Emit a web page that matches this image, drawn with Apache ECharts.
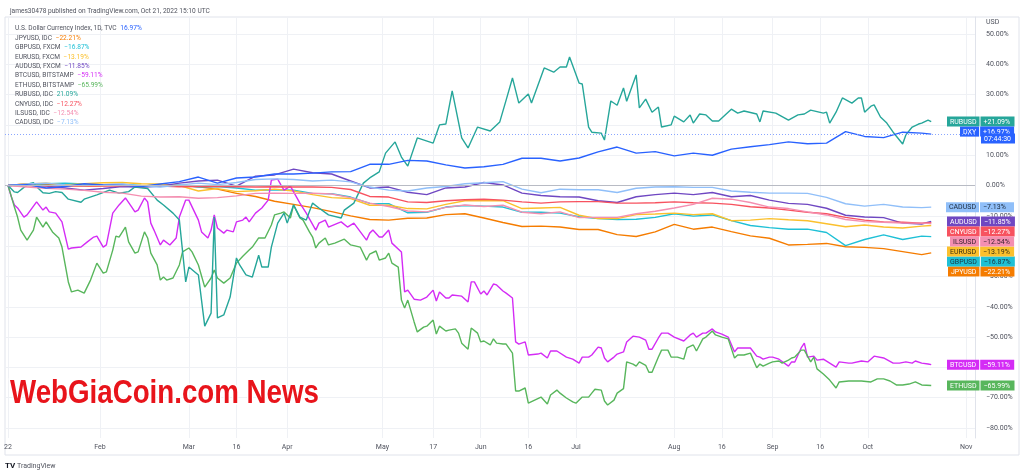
<!DOCTYPE html>
<html>
<head>
<meta charset="utf-8">
<script src="https://cdn.jsdelivr.net/npm/echarts@6/dist/echarts.min.js"></script>
<style>
  html, body { margin: 0; padding: 0; background: #fff; }
  #chart { width: 1024px; height: 475px; }
</style>
</head>
<body>
<div id="chart"></div>
<script>
// days counted from 2022-01-01
const fxDays = [2, 8, 14, 20, 26, 32, 38, 44, 50, 56, 62, 68, 74, 80, 86, 92, 98, 104, 110, 116,
  122, 128, 134, 140, 146, 152, 158, 164, 170, 176, 182, 188, 194, 200, 206, 212, 218, 224, 230, 236,
  242, 248, 254, 260, 266, 272, 278, 284, 290, 293];

// % change since start of year
const dxyValues = [0, 0.3, -0.8, -0.3, 0.6, 0.2, 0.0, -0.3, 0.5, 1.3, 2.8, 0.8, 2.5, 2.8, 3.8, 3.8, 4.1, 4.5, 4.6, 7.0,
  7.0, 8.3, 8.1, 6.8, 5.8, 6.2, 7.0, 9.0, 9.0, 8.1, 9.1, 11.1, 12.7, 10.7, 11.2, 9.8, 10.7, 10.0, 12.0, 12.8,
  13.5, 14.4, 13.8, 14.0, 17.8, 16.2, 15.8, 17.6, 17.3, 16.97];
const jpyValues = [0, 0.6, 0.4, 0.2, -0.2, 0.0, 0.3, -0.2, 0.2, 0.1, -0.4, -1.2, -2.6, -3.6, -5.2, -6.2, -7.3, -8.6, -10.0, -11.2,
  -11.4, -10.8, -10.7, -9.6, -9.3, -10.7, -12.2, -13.5, -13.4, -13.7, -14.5, -14.5, -16.2, -16.8, -15.3, -12.8, -14.4, -13.7, -15.2, -16.6,
  -17.4, -19.6, -19.4, -19.1, -20.2, -20.4, -20.8, -21.8, -22.8, -22.21];
const gbpValues = [0, 0.3, 0.6, 0.8, 0.5, 0.3, 0.4, 0.0, -0.2, 0.3, -0.5, -0.3, -0.8, -1.5, -1.4, -1.5, -2.6, -2.7, -3.8, -5.9,
  -6.0, -9.0, -8.8, -7.1, -6.6, -6.8, -7.1, -8.8, -8.8, -9.1, -10.3, -10.9, -11.2, -11.1, -10.5, -9.3, -10.1, -9.7, -11.6, -13.2,
  -13.9, -14.4, -14.4, -15.5, -19.8, -17.8, -16.3, -17.8, -16.7, -16.87];
const eurValues = [0, 0.5, 0.8, 0.2, 0.6, 0.9, 1.0, 0.6, 0.5, 0.0, -1.8, -1.0, -2.0, -1.7, -1.2, -1.8, -3.0, -4.0, -4.3, -6.5,
  -6.5, -7.6, -7.7, -6.2, -5.0, -5.0, -5.0, -7.6, -7.4, -7.2, -9.8, -10.9, -10.9, -9.6, -9.4, -9.1, -9.6, -9.3, -11.6, -11.4,
  -10.9, -11.3, -11.6, -12.6, -13.6, -13.0, -13.7, -14.0, -13.4, -13.19];
const audValues = [0, 0.3, -0.2, -0.8, -1.5, -1.0, -0.3, -0.6, -0.2, 0.8, 1.5, 1.8, -0.2, 3.1, 3.5, 5.4, 4.2, 3.8, 1.5, -0.8,
  -0.5, -2.2, -3.0, -0.8, -0.5, 1.0, 0.2, -2.5, -3.3, -3.7, -3.8, -5.0, -5.6, -3.7, -3.0, -2.5, -3.0, -2.3, -3.7, -3.3,
  -4.8, -5.9, -6.2, -7.5, -9.8, -10.4, -10.6, -12.4, -12.7, -11.85];
const cnyValues = [0, -0.1, 0.0, -0.2, -0.1, -0.2, -0.1, -0.3, -0.2, -0.4, -0.3, -0.3, -0.4, -0.5, -0.4, -0.5, -0.5, -0.6, -1.3, -3.6,
  -3.8, -5.4, -5.6, -5.0, -4.7, -4.5, -4.8, -5.4, -5.8, -5.4, -5.3, -5.3, -5.8, -5.8, -5.7, -5.4, -5.7, -5.8, -6.2, -7.0,
  -7.4, -8.1, -8.8, -9.3, -10.5, -11.4, -12.0, -12.1, -12.4, -12.27];
const ilsValues = [0, -0.5, -0.9, -1.2, -1.6, -2.2, -2.5, -3.5, -3.8, -3.7, -4.2, -4.0, -3.4, -2.6, -2.5, -2.6, -2.5, -2.8, -4.0, -5.8,
  -6.9, -8.4, -8.7, -7.2, -6.4, -6.9, -6.5, -8.8, -9.3, -8.7, -10.6, -10.5, -10.5, -9.3, -8.5, -7.4, -6.2, -4.2, -4.5, -5.6,
  -7.1, -7.6, -8.7, -9.7, -11.2, -11.9, -12.1, -12.4, -12.4, -12.54];
const cadValues = [0, 0.5, 0.8, 0.2, 0.0, 0.3, 0.5, -0.2, -0.5, 0.2, 0.8, 0.3, 1.0, 2.0, 2.2, 2.0, 1.5, 1.8, 1.2, -0.5,
  -1.5, -1.8, -0.8, -0.3, 0.6, 0.9, 1.3, -1.2, -2.4, -1.2, -1.4, -1.4, -2.3, -0.9, -0.5, -0.4, -0.6, -0.6, -1.8, -2.2,
  -2.5, -2.5, -2.6, -3.9, -6.0, -6.8, -6.2, -7.1, -7.3, -7.13];

// volatile ones: [day, %]
const rubPoints = [[2,0],[4,-2.1],[5,-2.3],[7,-0.6],[9,0.7],[10,0.9],[11,-0.4],[13,-2.4],[15,-2.6],[17,-2.0],[19,-2.3],[21,-4.5],[25,-5.5],[26,-4.5],[30,-3.1],[34,-1.5],[37,-2.5],[40,-2.0],[42,-0.5],[46,-1.0],
  [49,-4.8],[51,-6.4],[54,-9.1],[56,-11.4],[58,-31.8],[59,-26.9],[62,-29.5],[64,-46.4],[66,-42.1],[67,-10.4],[68,-43.7],[70,-42.7],[72,-36.8],[74,-23.9],[75,-26.2],[77,-29.5],[79,-30.2],[81,-23.0],[82,-26.9],[84,-26.9],
  [85,-20.3],[87,-12.4],[89,-9.1],[90,-12.4],[92,-6.4],[94,-10.4],[96,-11.4],[98,-5.8],[100,-7.4],[103,-9.7],[107,-10.7],[108,-8.1],[111,-5.8],[114,0.8],[116,2.5],[119,4.5],[121,10.7],[124,14.4],[126,9.4],[128,6.4],
  [131,15.7],[136,14.0],[138,20.0],[140,20.3],[142,31.2],[145,15.7],[147,12.4],[150,19.3],[154,18.0],[157,21.0],[159,28.2],[161,35.5],[163,27.2],[166,30.2],[167,27.2],[171,38.8],[174,37.4],[176,39.1],[178,39.1],[179,42.4],
  [182,33.8],[183,33.5],[185,19.3],[186,17.6],[189,17.3],[190,15.0],[192,27.9],[194,26.5],[196,32.2],[197,27.8],[200,36.5],[201,25.6],[203,28.5],[205,24.2],[207,25.9],[208,19.3],[211,20.0],[212,22.9],[215,21.0],[217,23.3],
  [218,20.6],[220,23.6],[222,23.3],[224,21.3],[226,21.3],[230,25.2],[232,23.9],[234,24.6],[238,23.6],[239,21.0],[240,24.6],[244,23.9],[248,21.6],[251,23.3],[253,23.6],[255,24.9],[259,23.9],[260,24.2],[261,20.6],[263,24.2],
  [265,28.9],[268,27.2],[270,28.9],[271,28.9],[272,24.2],[274,26.2],[275,26.6],[277,22.6],[279,20.6],[281,17.6],[284,13.7],[285,16.7],[287,19.3],[289,20.3],[290,20.6],[292,21.6],[293,21.09]];
const btcPoints = [[2,0],[3,-3.6],[4,-6.4],[5,-7.4],[7,-10.4],[8,-9.7],[11,-5.4],[13,-8.1],[14,-7.1],[15,-8.7],[17,-9.1],[19,-12.0],[21,-21.0],[22,-20.6],[25,-20.3],[27,-18.6],[29,-17.0],[30,-16.7],[32,-20.3],[33,-19.6],
  [35,-9.1],[37,-6.4],[39,-4.1],[41,-7.1],[42,-8.7],[43,-8.1],[45,-4.1],[46,-5.4],[47,-12.4],[48,-14.7],[50,-19.6],[51,-18.0],[53,-19.6],[55,-17.3],[56,-10.4],[58,-4.8],[59,-4.8],[62,-11.4],[63,-15.3],[65,-17.3],
  [66,-14.7],[67,-9.7],[68,-14.0],[70,-15.7],[71,-14.7],[73,-15.3],[74,-12.0],[76,-11.4],[77,-10.4],[78,-12.0],[80,-9.1],[82,-7.4],[84,-4.8],[85,1.8],[87,2.1],[88,0.2],[89,-1.5],[91,-0.2],[94,-5.8],[96,-9.1],
  [99,-14.7],[100,-12.4],[102,-11.4],[103,-13.7],[106,-12.4],[107,-12.0],[109,-13.7],[111,-12.4],[115,-18.0],[116,-15.7],[117,-14.7],[119,-17.0],[120,-17.0],[122,-14.7],[123,-19.0],[126,-21.9],[127,-35.1],[128,-34.5],[130,-37.5],[132,-37.8],
  [134,-36.8],[136,-34.5],[137,-38.1],[138,-35.1],[140,-37.1],[141,-37.1],[142,-36.1],[145,-36.5],[147,-38.4],[148,-31.8],[149,-31.8],[151,-35.8],[152,-34.8],[153,-36.1],[155,-32.5],[156,-32.8],[158,-34.8],[159,-35.5],[161,-37.1],[162,-51.6],
  [163,-52.3],[165,-51.6],[166,-55.9],[169,-55.6],[170,-55.3],[172,-56.9],[173,-54.6],[175,-54.6],[178,-56.6],[180,-57.3],[182,-58.6],[183,-56.6],[185,-56.6],[186,-55.9],[188,-53.3],[189,-53.6],[190,-56.9],[191,-58.2],[193,-56.6],[194,-55.6],
  [196,-54.9],[197,-51.6],[199,-49.7],[201,-50.0],[203,-51.0],[204,-54.0],[205,-54.0],[207,-50.3],[208,-48.7],[210,-48.7],[212,-50.0],[215,-51.3],[217,-49.3],[218,-48.7],[219,-50.0],[221,-48.7],[222,-48.7],[224,-47.3],[225,-48.3],[227,-49.0],
  [229,-50.0],[231,-54.9],[232,-53.6],[234,-53.6],[236,-53.6],[238,-56.3],[239,-56.6],[240,-57.3],[242,-56.6],[243,-56.6],[245,-57.3],[248,-59.6],[249,-58.2],[250,-58.2],[252,-53.6],[253,-52.0],[254,-56.6],[256,-56.3],[257,-57.6],[259,-57.3],
  [261,-58.6],[263,-59.9],[264,-58.2],[267,-58.6],[268,-58.6],[271,-57.9],[273,-58.2],[275,-56.3],[278,-56.9],[281,-58.6],[283,-58.6],[285,-58.2],[287,-58.6],[288,-57.9],[290,-58.6],[292,-58.9],[293,-59.11]];
const ethPoints = [[2,0],[3,-3.5],[4,-7.1],[5,-10.4],[6,-14.7],[8,-18.0],[10,-14.7],[11,-10.4],[13,-13.7],[14,-12.0],[16,-15.3],[18,-17.3],[19,-20.3],[21,-31.8],[22,-35.1],[24,-34.5],[26,-35.5],[28,-31.2],[30,-25.6],[32,-28.9],
  [33,-28.5],[35,-21.3],[36,-16.7],[37,-17.0],[39,-13.7],[40,-18.6],[42,-22.3],[43,-21.9],[45,-15.3],[46,-17.3],[47,-22.3],[49,-26.2],[50,-31.2],[51,-30.2],[52,-31.2],[54,-30.5],[56,-26.2],[57,-21.9],[59,-20.6],[60,-21.9],
  [62,-26.2],[64,-33.5],[66,-30.5],[67,-27.9],[68,-30.5],[70,-32.2],[72,-30.5],[74,-25.6],[76,-23.3],[78,-21.3],[79,-20.3],[81,-17.3],[83,-17.3],[85,-13.0],[86,-9.7],[88,-9.1],[89,-8.7],[91,-10.7],[92,-6.4],[94,-10.7],
  [95,-11.4],[97,-15.3],[98,-17.0],[99,-20.6],[100,-19.0],[102,-17.3],[103,-19.6],[105,-19.0],[108,-17.7],[110,-19.6],[113,-20.3],[115,-24.6],[116,-22.6],[118,-21.6],[119,-24.6],[121,-23.9],[122,-22.3],[123,-25.6],[125,-26.9],[126,-37.8],
  [127,-40.4],[128,-37.8],[130,-45.0],[131,-48.3],[133,-46.7],[134,-46.4],[136,-44.4],[137,-49.0],[138,-46.4],[140,-48.0],[141,-47.7],[143,-47.3],[144,-48.7],[145,-52.0],[147,-54.0],[148,-47.0],[150,-48.7],[151,-51.6],[152,-51.3],[154,-52.6],
  [155,-50.6],[156,-52.0],[158,-52.3],[159,-52.3],[161,-55.3],[162,-67.8],[163,-67.8],[165,-66.8],[166,-71.8],[168,-70.8],[170,-69.8],[172,-72.1],[173,-69.1],[175,-67.5],[176,-68.5],[178,-70.1],[180,-71.4],[181,-71.8],[183,-69.8],[185,-69.8],
  [186,-68.5],[187,-67.2],[189,-67.5],[190,-71.1],[191,-72.4],[193,-70.8],[194,-68.5],[196,-67.0],[197,-58.2],[199,-58.9],[200,-59.6],[201,-58.2],[203,-59.3],[204,-61.6],[205,-61.6],[207,-56.6],[208,-54.3],[210,-54.3],[211,-56.6],[213,-56.6],
  [215,-57.3],[216,-53.6],[218,-52.6],[219,-54.6],[221,-50.6],[222,-50.0],[224,-48.0],[225,-49.3],[227,-50.0],[229,-50.6],[231,-56.9],[232,-55.9],[234,-55.9],[236,-55.3],[238,-60.1],[239,-58.9],[240,-59.6],[242,-58.6],[243,-58.2],[245,-57.9],
  [246,-58.6],[248,-57.6],[249,-56.9],[250,-56.6],[252,-54.3],[253,-54.3],[255,-58.2],[256,-56.6],[257,-60.5],[259,-62.2],[261,-64.2],[263,-66.8],[264,-64.8],[267,-64.5],[271,-64.5],[274,-64.8],[276,-63.8],[278,-63.8],[280,-64.5],[282,-65.8],
  [284,-65.8],[286,-65.5],[288,-64.8],[290,-65.8],[293,-65.99]];

// time scale ticks (TradingView style), as day of year
const xTickDays = [2, 31, 59, 74, 90, 120, 136, 151, 166, 181, 212, 227, 243, 258, 273, 304];
const xTickLabels = ['22', 'Feb', 'Mar', '16', 'Apr', 'May', '17', 'Jun', '16', 'Jul', 'Aug', '16', 'Sep', '16', 'Oct', 'Nov'];
const yHiddenLabels = [20, -20, -60];

const fromFx = vals => fxDays.map((d, i) => [d, vals[i]]);

const FONT = 'Roboto, "Noto Sans", sans-serif';
const MINUS = '\u2212';
const pct = (v, plus) => (v < 0 ? MINUS : (plus ? '+' : '')) + Math.abs(v).toFixed(2) + '%';

// drawing order: last is on top
const lines = [
  { code: 'JPYUSD', legend: 'JPYUSD, IDC', color: '#f57c00', ink: '#fff', data: fromFx(jpyValues) },
  { code: 'GBPUSD', legend: 'GBPUSD, FXCM', color: '#1fc0d6', ink: '#1b3440', data: fromFx(gbpValues) },
  { code: 'EURUSD', legend: 'EURUSD, FXCM', color: '#fbc02d', ink: '#3a2f10', data: fromFx(eurValues) },
  { code: 'AUDUSD', legend: 'AUDUSD, FXCM', color: '#6f47c2', ink: '#fff', data: fromFx(audValues) },
  { code: 'BTCUSD', legend: 'BTCUSD, BITSTAMP', color: '#d42cf5', ink: '#fff', data: btcPoints },
  { code: 'ETHUSD', legend: 'ETHUSD, BITSTAMP', color: '#58b65c', ink: '#fff', data: ethPoints },
  { code: 'RUBUSD', legend: 'RUBUSD, IDC', color: '#26a69a', ink: '#fff', data: rubPoints },
  { code: 'CNYUSD', legend: 'CNYUSD, IDC', color: '#f7525f', ink: '#fff', data: fromFx(cnyValues) },
  { code: 'ILSUSD', legend: 'ILSUSD, IDC', color: '#f48fb1', ink: '#3a2230', data: fromFx(ilsValues) },
  { code: 'CADUSD', legend: 'CADUSD, IDC', color: '#90bff9', ink: '#1c2a3c', data: fromFx(cadValues) },
  { code: 'DXY', legend: 'U.S. Dollar Currency Index, 1D, TVC', color: '#2962ff', ink: '#fff', data: fromFx(dxyValues), extra: '07:44:30' }
];
const legendOrder = ['DXY', 'JPYUSD', 'GBPUSD', 'EURUSD', 'AUDUSD', 'BTCUSD', 'ETHUSD', 'RUBUSD', 'CNYUSD', 'ILSUSD', 'CADUSD'];

const measure = document.createElement('canvas').getContext('2d');
measure.font = '7px ' + FONT;
const textW = s => Math.ceil(measure.measureText(s).width);

const lastOf = l => l.data[l.data.length - 1][1];

// legend block
const legendRich = { n: { color: '#50535e', fontSize: 6.6, fontFamily: FONT } };
const legendText = legendOrder.map((code, i) => {
  const l = lines.find(x => x.code === code);
  legendRich['c' + i] = { color: l.color, fontSize: 6.6, fontFamily: FONT };
  return '{n|' + l.legend + '}  {c' + i + '|' + pct(lastOf(l), false) + '}';
}).join('\n');

const series = lines.map(l => {
  const nameW = textW(l.code) + 6;
  const val = pct(lastOf(l), true);
  const box = { backgroundColor: l.color, color: l.ink, fontSize: 7, lineHeight: 7, fontFamily: FONT, padding: [2, 3, 1, 3] };
  const s = {
    type: 'line',
    name: l.code,
    xAxisIndex: 1,
    yAxisIndex: 1,
    data: l.data,
    showSymbol: false,
    symbol: 'none',
    silent: true,
    lineStyle: { color: l.color, width: 1.4 },
    itemStyle: { color: l.color },
    endLabel: {
      show: true,
      formatter: () => {
        let t = '{n|' + l.code + '}{g| }{v|' + val + '}';
        if (l.extra) t += '\n{s| }{g| }{v|' + l.extra + '}';
        return t;
      },
      rich: {
        n: box,
        v: Object.assign({}, box, { width: 28 }),
        g: { width: 1, fontSize: 7, lineHeight: 7, padding: [2, 0, 1, 0] },
        s: { width: nameW, fontSize: 7, lineHeight: 7, padding: [2, 0, 1, 0] }
      }
    },
    labelLayout: { x: 980 - nameW, align: 'left', moveOverlap: 'shiftY' }
  };
  if (l.code === 'DXY') {
    s.markLine = {
      silent: true,
      symbol: 'none',
      label: { show: false },
      data: [
        { yAxis: 0, lineStyle: { color: '#b8bbc4', type: 'solid', width: 1 } },
        { yAxis: lastOf(l), lineStyle: { color: '#8aa6ff', type: [1, 2], width: 1 } }
      ]
    };
  }
  return s;
});

const xMin = 1.04, xMax = 306.8;

const chart = echarts.init(document.getElementById('chart'));
chart.setOption({
  animation: false,
  backgroundColor: '#fff',
  title: [
    {
      text: 'james30478 published on TradingView.com, Oct 21, 2022 15:10 UTC',
      left: 5, top: 3,
      textStyle: { fontSize: 6.6, fontWeight: 'normal', color: '#50535e', fontFamily: FONT }
    },
    {
      text: legendText,
      left: 10, top: 19,
      textStyle: { fontSize: 6.6, lineHeight: 9.4, fontWeight: 'normal', rich: legendRich }
    }
  ],
  grid: [
    { left: 5, right: 49, top: 17, bottom: 37 },
    { left: 5, right: 49, top: 34, bottom: 47 }
  ],
  xAxis: [
    {
      type: 'value', gridIndex: 0, min: xMin, max: xMax,
      axisLine: { show: false },
      axisTick: { show: false, customValues: xTickDays },
      splitLine: { show: true, lineStyle: { color: '#eff1f5', width: 1 } },
      axisLabel: {
        customValues: xTickDays,
        margin: 6,
        fontSize: 7, color: '#50535e', fontFamily: FONT,
        showMinLabel: true, showMaxLabel: true,
        formatter: v => {
          const i = xTickDays.indexOf(Math.round(v));
          return i >= 0 ? xTickLabels[i] : '';
        }
      }
    },
    { type: 'value', gridIndex: 1, min: xMin, max: xMax, show: false, splitLine: { show: false } }
  ],
  yAxis: [
    {
      type: 'value', gridIndex: 0, min: 0, max: 1, position: 'right',
      axisLine: { show: true, lineStyle: { color: '#e0e3eb' } },
      axisTick: { show: false }, axisLabel: { show: false }, splitLine: { show: false }
    },
    {
      type: 'value', gridIndex: 1, min: -80, max: 50, interval: 10, position: 'right',
      axisLine: { show: false }, axisTick: { show: false },
      splitLine: { show: true, lineStyle: { color: '#eff1f5', width: 1 } },
      axisLabel: {
        margin: 11, fontSize: 7, color: '#50535e', fontFamily: FONT,
        formatter: v => (yHiddenLabels.indexOf(v) >= 0 ? '' : pct(v, false))
      }
    }
  ],
  graphic: [
    {
      type: 'rect', silent: true, z: -1,
      shape: { x: 5, y: 17, width: 1014, height: 438 },
      style: { fill: 'none', stroke: '#e0e3eb', lineWidth: 1 }
    },
    {
      type: 'text', left: 986, top: 19,
      style: { text: 'USD', fontSize: 7, fill: '#50535e', fontFamily: FONT }
    },
    {
      type: 'text', left: 5, top: 462,
      style: {
        text: '{b|TV} TradingView',
        rich: {
          b: { fontSize: 8, fontWeight: 'bold', fill: '#131722', fontFamily: FONT }
        },
        fontSize: 7, fill: '#50535e', fontFamily: FONT
      }
    },
    {
      type: 'text', x: 10, y: 394, z: 100, scaleX: 0.815,
      style: {
        text: 'WebGiaCoin.com News',
        font: 'bold 34px "Liberation Sans", Arial, sans-serif',
        verticalAlign: 'middle',
        fill: '#e8141b',
        stroke: '#ffffff',
        lineWidth: 3,
        strokeFirst: true,
        shadowColor: 'rgba(0,0,0,0.35)',
        shadowBlur: 3
      }
    }
  ],
  series: series
});
</script>
</body>
</html>
